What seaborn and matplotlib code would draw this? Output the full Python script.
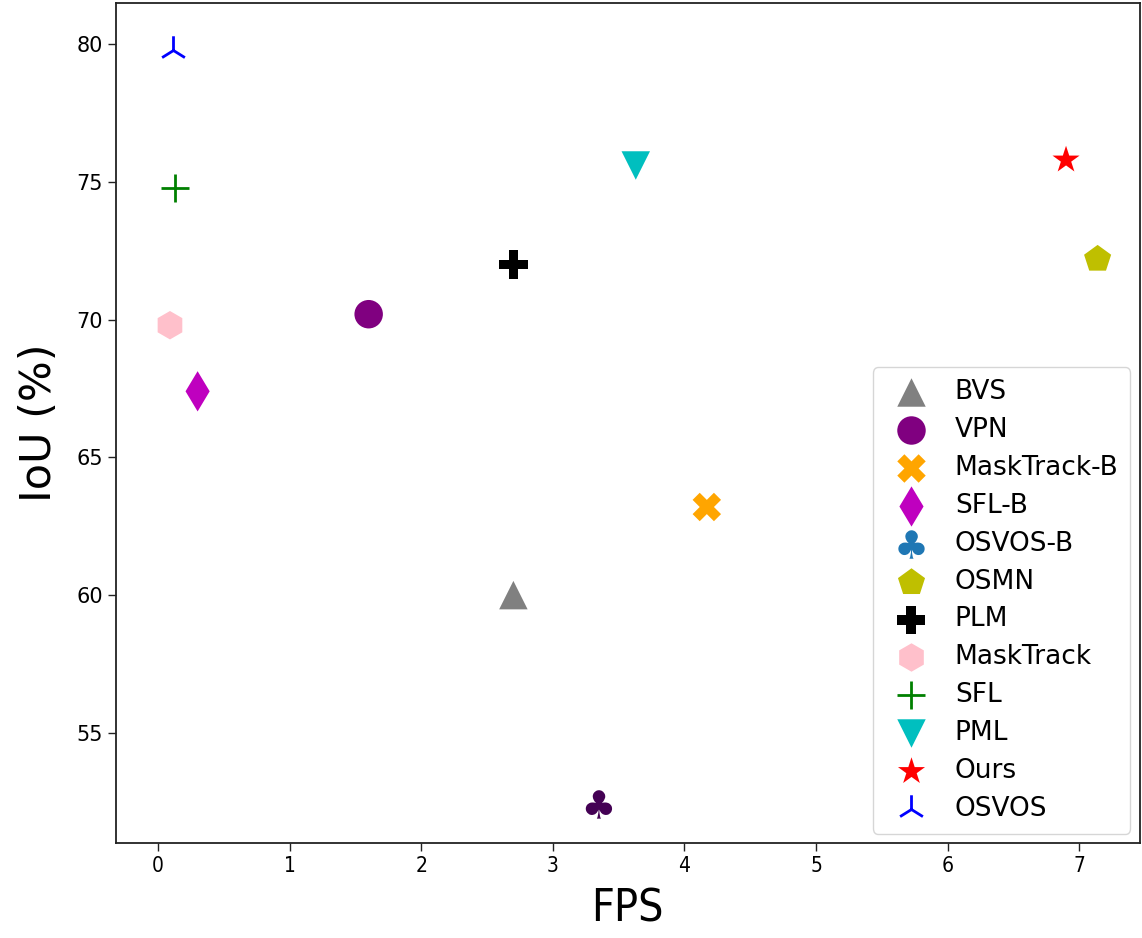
import matplotlib
matplotlib.use("Agg")
import matplotlib.pyplot as plt
import seaborn as sns
import pandas as pd

methods = ["BVS", "VPN", "MaskTrack-B", "SFL-B", "OSVOS-B", "OSMN", "PLM",
           "MaskTrack", "SFL", "PML", "Ours", "OSVOS"]
fps = [2.7, 1.6, 4.17, 0.3, 3.35, 7.14, 2.7, 0.09, 0.13, 3.63, 6.9, 0.11]
iou = [60.0, 70.2, 63.2, 67.4, 52.4, 72.2, 72.0, 69.8, 74.8, 75.6, 75.8, 79.8]
markers = ["^", "o", "X", "d", "$\\clubsuit$", "p", "P", "h", "+", "v", "*", "2"]
colors = ["gray", "purple", "orange", "m", "#440154", "y", "k", "pink", "g", "c", "r", "b"]
legend_colors = ["gray", "purple", "orange", "m", "#1f77b4", "y", "k", "pink", "g", "c", "r", "b"]

df = pd.DataFrame({"method": methods, "fps": fps, "iou": iou})

sns.set_style("ticks")
plt.rcParams["font.family"] = ["DejaVu Sans"]
plt.rcParams["text.color"] = "black"
plt.rcParams["axes.labelcolor"] = "black"

fig = plt.figure(figsize=(11.42, 9.38), dpi=100)
ax = fig.add_axes([0.1016, 0.1013, 0.8964, 0.8955])

for i, m in enumerate(methods):
    sub = df[df["method"] == m]
    lw = 2.0 if markers[i] in ("+", "2") else 0
    sns.scatterplot(data=sub, x="fps", y="iou", marker=markers[i], color=colors[i],
                    s=420, linewidth=lw, edgecolor=colors[i] if lw else "none",
                    label=m, ax=ax)

ax.set_xlim(-0.32, 7.46)
ax.set_ylim(51.0, 81.5)
ax.set_xticks(range(0, 8))
ax.set_yticks([55, 60, 65, 70, 75, 80])
ax.tick_params(axis="both", labelsize=15, length=6, width=1, colors="#222222", labelcolor="black")
for lab in ax.get_xticklabels():
    lab.set_fontstretch("condensed")
ax.set_xlabel("FPS", fontsize=32, fontstretch="condensed", labelpad=8)
ax.set_ylabel("IoU (%)", fontsize=31, labelpad=12)
for sp in ax.spines.values():
    sp.set_visible(True)
    sp.set_linewidth(1.3)
    sp.set_color("#222222")

leg = ax.legend(loc="lower right", fontsize=19, frameon=True, handletextpad=0.67,
                borderpad=0.45, labelspacing=0.45, borderaxespad=0.35)
for h, c in zip(leg.legend_handles, legend_colors):
    try:
        h.set_color(c)
    except Exception:
        pass
for t in leg.get_texts():
    t.set_color("black")

fig.savefig("out.png", dpi=100)
